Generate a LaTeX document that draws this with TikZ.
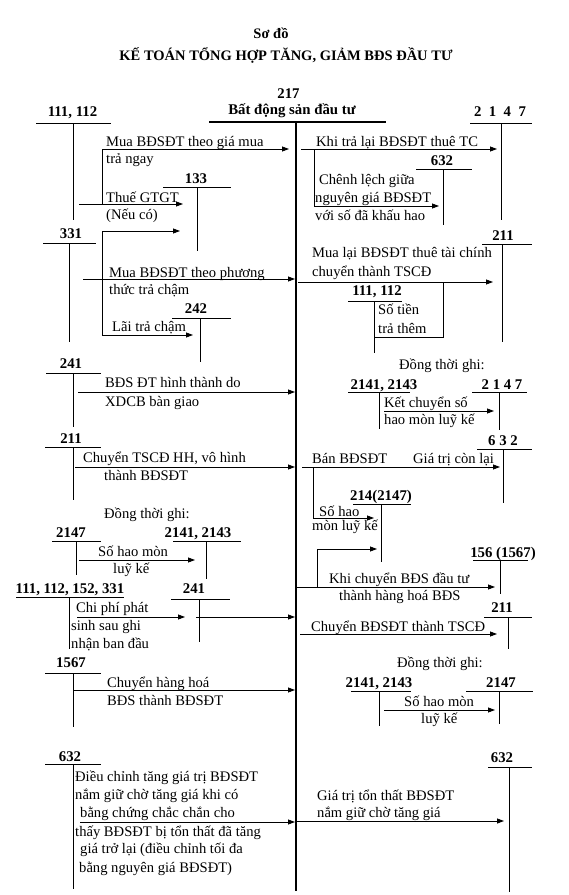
\documentclass[tikz,border=0pt]{standalone}
\usepackage{fontspec}
\setmainfont{Liberation Serif}
\usetikzlibrary{arrows.meta}
\tikzset{
  acc/.style={anchor=base, inner sep=0pt, font=\bfseries\fontsize{14.8}{17}\selectfont},
  ttl/.style={anchor=base, inner sep=0pt, font=\bfseries\fontsize{14.5}{17}\selectfont},
  txt/.style={anchor=base west, inner sep=0pt, font=\fontsize{14.6}{18}\selectfont},
  tline/.style={line width=0.9pt},
  mainline/.style={line width=1.6pt},
  arr/.style={line width=0.8pt, -{Triangle[length=7pt,width=5pt]}},
  link/.style={line width=0.8pt},
}
\newcommand\TAcc[9]{%
  \node[acc] (#1) at (#3,#4) {#2};
  \coordinate (#1-l) at (#5,#7);
  \coordinate (#1-r) at (#6,#7);
  \coordinate (#1-t) at (#8,#7);
  \coordinate (#1-b) at (#8,#9);
  \draw[tline] (#1-l) -- (#1-r);
  \draw[tline] (#1-t) -- (#1-b);
}
\newcommand\Arr[5]{%
  \coordinate (#1-s) at (#2,#3);
  \coordinate (#1-e) at (#4,#5);
  \draw[arr] (#1-s) -- (#1-e);
}
\newcommand\Ln[4]{\node[txt] (#1) at (#2,#3) {#4};}
\begin{document}
\begin{tikzpicture}[x=1pt,y=-1pt]
\useasboundingbox (0,0) rectangle (569,895);
% titles
\node[ttl] (title1) at (271,38) {Sơ đồ};
\node[ttl] (title2) at (286,60) {KẾ TOÁN TỔNG HỢP TĂNG, GIẢM BĐS ĐẦU TƯ};
% main account 217
\node[acc] (n217) at (288.5,98) {217};
\node[acc] (n217b) at (292,114) {Bất động sản đầu tư};
\coordinate (m-l) at (209,122);
\coordinate (m-r) at (386,122);
\coordinate (m-t) at (296,122);
\coordinate (m-b) at (296,891);
\draw[mainline] (m-l) -- (m-r);
\draw[line width=1.4pt] (m-t) -- (m-b);
% T accounts
\TAcc{a111}{111, 112}{72.5}{116}{36}{111}{123}{73}{220}
\TAcc{a2147}{2\enspace1\enspace4\enspace7}{500}{116}{470}{532}{123}{501}{220}
\TAcc{a133}{133}{196}{183}{163}{231}{187}{197}{251}
\TAcc{a331}{331}{71}{238}{43}{96}{243}{69}{342}
\TAcc{a632a}{632}{442}{165}{416}{472}{169}{443}{225}
\TAcc{a211a}{211}{503}{240}{482}{532}{244}{502}{342}
\TAcc{a111b}{111, 112}{377}{295}{348}{402}{301}{374}{353}
\TAcc{a242}{242}{196}{313}{172}{231}{318}{200}{362}
\TAcc{a241a}{241}{71}{368}{46}{101}{373}{73}{427}
\TAcc{a2141a}{2141, 2143}{384}{389}{348}{410}{392}{379}{429}
\TAcc{a2147b}{2 1 4 7}{502}{389}{472}{527}{392}{499}{430}
\TAcc{a211b}{211}{71}{443}{45}{101}{447}{73}{500}
\TAcc{a632b}{6 3 2}{503}{445}{477}{532}{449}{503}{503}
\TAcc{a214}{214(2147)}{381}{500}{353}{411}{504}{381}{562}
\TAcc{a2147c}{2147}{71}{537}{52}{101}{541}{76}{575}
\TAcc{a2141b}{2141, 2143}{198}{537}{173}{241}{541}{206}{579}
\TAcc{a156}{156 (1567)}{503}{557}{473}{528}{560}{500}{594}
\TAcc{a111c}{111, 112, 152, 331}{70}{593}{16}{124}{597}{69}{649}
\TAcc{a241b}{241}{194}{593}{171}{230}{599}{199}{642}
\TAcc{a211c}{211}{502}{612}{484}{532}{617}{508}{649}
\TAcc{a1567}{1567}{71}{667}{45}{101}{673}{73}{727}
\TAcc{a2141c}{2141, 2143}{379}{687}{351}{411}{691}{379}{726}
\TAcc{a2147d}{2147}{501}{687}{466}{533}{691}{499}{724}
\TAcc{a632c}{632}{70}{761}{45}{101}{764}{73}{889}
\TAcc{a632d}{632}{502}{762}{488}{532}{767}{509}{892}
% left arrows
\Arr{A1}{102}{149}{289}{149}
\Arr{A1t}{79}{204}{183}{204}
\coordinate (A1k) at (102,204);
\draw[link] (A1k) -- (A1-s);
\Arr{A2}{83}{279}{295}{279}
\coordinate (A2k) at (102,279);
\coordinate (A2u) at (102,231);
\coordinate (A2ue) at (180,231);
\coordinate (A2d) at (102,335);
\coordinate (A2de) at (193,335);
\draw[arr] (A2k) -- (A2u) -- (A2ue);
\draw[arr] (A2k) -- (A2d) -- (A2de);
\Arr{A3}{78}{392}{295}{392}
\Arr{A4}{75}{467}{295}{467}
\Arr{A5}{79}{560}{195}{560}
\Arr{A6}{77}{617}{185}{617}
\Arr{A7}{196}{617}{295}{617}
\Arr{A8}{74}{690}{295}{690}
\Arr{A9}{80}{822}{295}{822}
% right arrows
\Arr{B1}{301}{149}{497}{149}
\coordinate (B1k) at (314,149);
\coordinate (B1c) at (314,206);
\coordinate (B1e) at (439,206);
\draw[arr] (B1k) -- (B1c) -- (B1e);
\Arr{B2}{298}{282}{493}{282}
\coordinate (B2k) at (443,282);
\coordinate (B2c) at (443,337);
\coordinate (B2e) at (374,337);
\draw[link] (B2e) -- (B2c) -- (B2k);
\Arr{B3}{384}{411}{494}{411}
\Arr{B4}{302}{467}{500}{467}
\coordinate (B4k) at (313,467);
\coordinate (B4c) at (313,518);
\coordinate (B4e) at (374,518);
\draw[arr] (B4k) -- (B4c) -- (B4e);
\Arr{B5}{297}{587}{495}{587}
\coordinate (B5k) at (317,587);
\coordinate (B5c) at (317,549);
\coordinate (B5e) at (377,549);
\draw[arr] (B5k) -- (B5c) -- (B5e);
\Arr{B6}{300}{634}{497}{634}
\Arr{B7}{384}{710}{495}{710}
\Arr{B8}{296}{821}{504}{821}
% left texts
\Ln{t1a}{106}{146}{Mua BĐSĐT theo giá mua}
\Ln{t1b}{106}{163}{trả ngay}
\Ln{t2a}{106}{202}{Thuế GTGT}
\Ln{t2b}{106}{219}{(Nếu có)}
\Ln{t3a}{109}{277}{Mua BĐSĐT theo phương}
\Ln{t3b}{109}{294}{thức trả chậm}
\Ln{t4}{112}{331}{Lãi trả chậm}
\Ln{t5a}{105}{387}{BĐS ĐT hình thành do}
\Ln{t5b}{105}{406}{XDCB bàn giao}
\Ln{t6a}{83}{462}{Chuyển TSCĐ HH, vô hình}
\Ln{t6b}{104}{480}{thành BĐSĐT}
\Ln{t7}{104}{518}{Đồng thời ghi:}
\Ln{t8a}{98}{556}{Số hao mòn}
\Ln{t8b}{113}{573}{luỹ kế}
\Ln{t9a}{76}{612}{Chi phí phát}
\Ln{t9b}{71}{630}{sinh sau ghi}
\Ln{t9c}{71}{648}{nhận ban đầu}
\Ln{t10a}{107}{687}{Chuyển hàng hoá}
\Ln{t10b}{107}{705}{BĐS thành BĐSĐT}
\Ln{t11a}{75}{781}{Điều chỉnh tăng giá trị BĐSĐT}
\Ln{t11b}{75}{799}{nắm giữ chờ tăng giá khi có}
\Ln{t11c}{80}{817}{bằng chứng chắc chắn cho}
\Ln{t11d}{75}{836}{thấy BĐSĐT bị tổn thất đã tăng}
\Ln{t11e}{80}{853}{giá trở lại (điều chỉnh tối đa}
\Ln{t11f}{79}{872}{bằng nguyên giá BĐSĐT)}
% right texts
\Ln{r1}{316}{146}{Khi trả lại BĐSĐT thuê TC}
\Ln{r2a}{319}{184}{Chênh lệch giữa}
\Ln{r2b}{315}{202}{nguyên giá BĐSĐT}
\Ln{r2c}{315}{220}{với số đã khấu hao}
\Ln{r3a}{312}{257}{Mua lại BĐSĐT thuê tài chính}
\Ln{r3b}{312}{276}{chuyển thành TSCĐ}
\Ln{r4a}{378}{314}{Số tiền}
\Ln{r4b}{378}{333}{trả thêm}
\Ln{r5}{399}{369}{Đồng thời ghi:}
\Ln{r6a}{384}{407}{Kết chuyển số}
\Ln{r6b}{384}{424}{hao mòn luỹ kế}
\Ln{r7a}{312}{463}{Bán BĐSĐT}
\Ln{r7b}{413}{463}{Giá trị còn lại}
\Ln{r8a}{319}{516}{Số hao}
\Ln{r8b}{312}{530}{mòn luỹ kế}
\Ln{r9a}{329}{583}{Khi chuyển BĐS đầu tư}
\Ln{r9b}{339}{600}{thành hàng hoá BĐS}
\Ln{r10}{311}{631}{Chuyển BĐSĐT thành TSCĐ}
\Ln{r11}{397}{667}{Đồng thời ghi:}
\Ln{r12a}{404}{706}{Số hao mòn}
\Ln{r12b}{421}{723}{luỹ kế}
\Ln{r13a}{317}{800}{Giá trị tổn thất BĐSĐT}
\Ln{r13b}{317}{817}{nắm giữ chờ tăng giá}
\end{tikzpicture}
\end{document}
